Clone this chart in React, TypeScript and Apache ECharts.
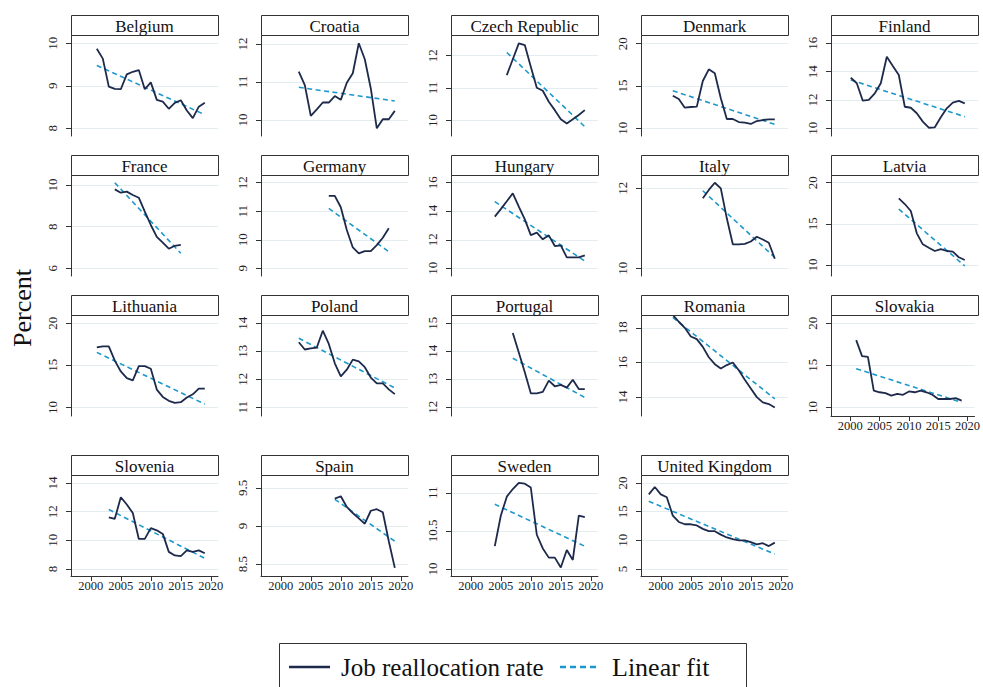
import React, { useEffect, useRef } from 'react';
import * as echarts from 'echarts';

// ---------- DATA ----------
const countries = ['Belgium', 'Croatia', 'Czech Republic', 'Denmark', 'Finland', 'France', 'Germany', 'Hungary', 'Italy', 'Latvia', 'Lithuania', 'Poland', 'Portugal', 'Romania', 'Slovakia', 'Slovenia', 'Spain', 'Sweden', 'United Kingdom'];
const startYears = [2001, 2003, 2006, 2002, 2000, 2004, 2008, 2004, 2007, 2008, 2001, 2003, 2007, 2002, 2001, 2003, 2009, 2004, 1998];

const belgium = [9.87, 9.64, 8.98, 8.93, 8.92, 9.27, 9.33, 9.37, 8.92, 9.08, 8.67, 8.63, 8.46, 8.60, 8.66, 8.42, 8.24, 8.51, 8.60];
const croatia = [11.27, 10.92, 10.11, 10.28, 10.46, 10.46, 10.63, 10.53, 10.98, 11.23, 12.02, 11.60, 10.83, 9.78, 10.02, 10.02, 10.24];
const czechRepublic = [11.40, 11.89, 12.38, 12.33, 11.66, 11.01, 10.92, 10.58, 10.32, 10.04, 9.91, 10.04, 10.17, 10.32];
const denmark = [13.85, 13.46, 12.44, 12.52, 12.56, 15.59, 16.97, 16.50, 13.55, 11.10, 11.10, 10.74, 10.66, 10.51, 10.86, 10.98, 11.06, 11.06];
const finland = [13.57, 13.18, 11.95, 12.0, 12.47, 13.18, 15.05, 14.40, 13.76, 11.52, 11.45, 11.06, 10.47, 10.04, 10.07, 10.78, 11.41, 11.81, 11.93, 11.76];
const france = [9.79, 9.63, 9.68, 9.52, 9.39, 8.72, 8.08, 7.51, 7.23, 6.94, 7.08, 7.12];
const germany = [11.54, 11.54, 11.14, 10.34, 9.73, 9.52, 9.60, 9.60, 9.81, 10.07, 10.40];
const hungary = [13.62, 14.15, 14.70, 15.26, 14.32, 13.43, 12.33, 12.50, 12.03, 12.31, 11.56, 11.61, 10.76, 10.76, 10.76, 10.91];
const italy = [11.75, 11.96, 12.14, 12.0, 11.25, 10.60, 10.60, 10.61, 10.67, 10.79, 10.72, 10.64, 10.24];
const latvia = [18.10, 17.41, 16.56, 13.85, 12.51, 12.10, 11.70, 11.94, 11.70, 11.62, 10.94, 10.61];
const lithuania = [17.13, 17.25, 17.25, 15.56, 14.27, 13.49, 13.21, 14.90, 14.90, 14.59, 12.12, 11.25, 10.78, 10.54, 10.62, 11.18, 11.56, 12.24, 12.24];
const poland = [13.32, 13.06, 13.10, 13.13, 13.73, 13.26, 12.57, 12.10, 12.34, 12.70, 12.64, 12.43, 12.06, 11.85, 11.85, 11.64, 11.47];
const portugal = [14.65, 13.95, 13.25, 12.5, 12.5, 12.55, 12.95, 12.75, 12.8, 12.7, 12.98, 12.65, 12.65];
const romania = [18.75, 18.35, 18.0, 17.5, 17.35, 16.9, 16.3, 15.9, 15.65, 15.85, 16.0, 15.55, 15.0, 14.5, 14.0, 13.7, 13.6, 13.4];
const slovakia = [18.0, 16.1, 16.0, 12.0, 11.8, 11.7, 11.4, 11.6, 11.5, 11.9, 11.8, 12.0, 11.8, 11.5, 11.0, 11.0, 11.0, 11.1, 10.8];
const slovenia = [11.6, 11.5, 13.0, 12.5, 11.9, 10.1, 10.1, 10.85, 10.7, 10.45, 9.2, 8.95, 8.9, 9.3, 9.2, 9.3, 9.1];
const spain = [9.36, 9.39, 9.25, 9.17, 9.1, 9.03, 9.2, 9.22, 9.18, 8.8, 8.45];
const sweden = [10.3, 10.7, 10.95, 11.05, 11.13, 11.12, 11.07, 10.45, 10.27, 10.15, 10.15, 10.02, 10.25, 10.12, 10.7, 10.68];
const unitedKingdom = [18.0, 19.3, 18.0, 17.5, 14.3, 13.2, 12.8, 12.8, 12.6, 12.0, 11.6, 11.6, 11.0, 10.5, 10.2, 10.0, 10.0, 9.7, 9.3, 9.5, 9.0, 9.6];

const rates = [belgium, croatia, czechRepublic, denmark, finland, france, germany, hungary, italy, latvia, lithuania, poland, portugal, romania, slovakia, slovenia, spain, sweden, unitedKingdom];

// linear fit: value at first year, value at last year
const belgiumFit = [9.48, 8.32];
const croatiaFit = [10.86, 10.5];
const czechRepublicFit = [12.1, 9.81];
const denmarkFit = [14.44, 10.47];
const finlandFit = [13.41, 10.82];
const franceFit = [10.11, 6.72];
const germanyFit = [11.1, 9.58];
const hungaryFit = [14.67, 10.51];
const italyFit = [11.94, 10.27];
const latviaFit = [16.8, 9.88];
const lithuaniaFit = [16.54, 10.39];
const polandFit = [13.46, 11.69];
const portugalFit = [13.75, 12.35];
const romaniaFit = [18.6, 13.9];
const slovakiaFit = [14.6, 10.6];
const sloveniaFit = [12.15, 8.75];
const spainFit = [9.35, 8.8];
const swedenFit = [10.85, 10.3];
const unitedKingdomFit = [16.8, 7.6];

const fits = [belgiumFit, croatiaFit, czechRepublicFit, denmarkFit, finlandFit, franceFit, germanyFit, hungaryFit, italyFit, latviaFit, lithuaniaFit, polandFit, portugalFit, romaniaFit, slovakiaFit, sloveniaFit, spainFit, swedenFit, unitedKingdomFit];

const yTicks = [
  [8, 9, 10], [10, 11, 12], [10, 11, 12], [10, 15, 20], [10, 12, 14, 16],
  [6, 8, 10], [9, 10, 11, 12], [10, 12, 14, 16], [10, 12], [10, 15, 20],
  [10, 15, 20], [11, 12, 13, 14], [12, 13, 14, 15], [14, 16, 18], [10, 15, 20],
  [8, 10, 12, 14], [8.5, 9, 9.5], [10, 10.5, 11], [5, 10, 15, 20],
];
const xTicks = [2000, 2005, 2010, 2015, 2020];

const seriesNames = ['Job reallocation rate', 'Linear fit'];

// ---------- LAYOUT ----------
const yRange = [
  [7.82, 10.195], [9.579, 12.237], [9.522, 12.639], [9.09, 21.03], [9.456, 16.586],
  [5.63, 10.48], [8.73, 12.27], [9.46, 16.54], [9.808, 12.333], [8.66, 20.94],
  [8.98, 20.98], [10.69, 14.29], [11.69, 15.29], [12.91, 18.74], [8.98, 20.98],
  [7.52, 14.55], [8.344, 9.669], [9.909, 11.234], [3.79, 21.38],
];
const X_MIN = 1996.7;
const X_MAX = 2021.2;
const COL_LEFT = [71, 261, 451, 641, 831];
const ROW_TOP = [15, 155, 295, 455];
const PLOT_W = 147;
const TITLE_H = 20;
const PLOT_H = 101;
const FONT = '"Liberation Serif", "DejaVu Serif", serif';
const NAVY = '#1d2a4b';
const TEAL = '#1d98cc';
const AXIS = '#333333';

function panelPos(i: number) {
  const row = Math.floor(i / 5);
  const col = i % 5;
  return { left: COL_LEFT[col], top: ROW_TOP[row] };
}
function hasXAxis(i: number) {
  return i >= 14;
}

export default function App() {
  const ref = useRef<HTMLDivElement>(null);
  useEffect(() => {
    if (!ref.current) return;
    const chart = echarts.init(ref.current, null, { renderer: 'svg' });
    const grids: any[] = [];
    const xAxes: any[] = [];
    const yAxes: any[] = [];
    const series: any[] = [];
    const graphics: any[] = [];

    countries.forEach((name, i) => {
      const p = panelPos(i);
      grids.push({ left: p.left, top: p.top + TITLE_H, width: PLOT_W, height: PLOT_H, containLabel: false });
      const showX = hasXAxis(i);
      xAxes.push({
        gridIndex: i, type: 'value', min: X_MIN, max: X_MAX,
        show: showX,
        axisLine: { show: showX, onZero: false, lineStyle: { color: AXIS, width: 1 } },
        axisTick: { show: showX, length: 5, customValues: xTicks, lineStyle: { color: AXIS } },
        axisLabel: {
          show: showX, customValues: xTicks, fontSize: 12.5, fontFamily: FONT, color: '#222', margin: 3,
          formatter: (v: number) => String(v),
        },
        splitLine: { show: false },
      });
      yAxes.push({
        gridIndex: i, type: 'value', min: yRange[i][0], max: yRange[i][1],
        axisLine: { show: true, onZero: false, lineStyle: { color: AXIS, width: 1 } },
        axisTick: { show: true, length: 5, customValues: yTicks[i], lineStyle: { color: AXIS } },
        axisLabel: {
          customValues: yTicks[i], rotate: 90, fontSize: 13, fontFamily: FONT, color: '#222', margin: 12,
          formatter: (v: number) => String(v),
        },
        splitLine: { show: true, lineStyle: { color: '#e3edf0', width: 1 } },
      });
      const vals = rates[i];
      const start = startYears[i];
      const end = start + vals.length - 1;
      series.push({
        name: seriesNames[0], type: 'line', xAxisIndex: i, yAxisIndex: i,
        data: vals.map((v, k) => [start + k, v]),
        symbol: 'none', lineStyle: { color: NAVY, width: 1.8 }, clip: false, z: 3,
      });
      series.push({
        name: seriesNames[1], type: 'line', xAxisIndex: i, yAxisIndex: i,
        data: [[start, fits[i][0]], [end, fits[i][1]]],
        symbol: 'none', lineStyle: { color: TEAL, width: 1.6, type: [5, 3.5] }, clip: false, z: 2,
      });
      graphics.push({
        type: 'rect', shape: { x: p.left + 0.5, y: p.top + 0.5, width: PLOT_W, height: TITLE_H },
        style: { fill: '#fff', stroke: AXIS, lineWidth: 1 }, z: 10,
      });
      graphics.push({
        type: 'text', x: p.left + PLOT_W / 2, y: p.top + TITLE_H / 2 + 1,
        style: { text: name, font: `17px ${FONT}`, fill: '#111', textAlign: 'center', textVerticalAlign: 'middle' }, z: 11,
      });
    });

    graphics.push({
      type: 'text', x: 22, y: 308, rotation: Math.PI / 2,
      style: { text: 'Percent', font: `26px ${FONT}`, fill: '#111', textAlign: 'center', textVerticalAlign: 'middle' },
    });
    // legend
    graphics.push({ type: 'rect', shape: { x: 279.5, y: 643.5, width: 467, height: 60 }, style: { fill: '#fff', stroke: AXIS, lineWidth: 1 } });
    graphics.push({ type: 'line', shape: { x1: 289, y1: 667, x2: 330, y2: 667 }, style: { stroke: NAVY, lineWidth: 2.5 } });
    graphics.push({ type: 'text', x: 341, y: 667, style: { text: seriesNames[0], font: `25px ${FONT}`, fill: '#111', textVerticalAlign: 'middle' } });
    graphics.push({ type: 'line', shape: { x1: 560, y1: 667, x2: 599, y2: 667 }, style: { stroke: TEAL, lineWidth: 2.5, lineDash: [6, 4] } });
    graphics.push({ type: 'text', x: 612, y: 667, style: { text: seriesNames[1], font: `26px ${FONT}`, fill: '#111', textVerticalAlign: 'middle' } });

    chart.setOption({
      animation: false,
      backgroundColor: '#fff',
      grid: grids,
      xAxis: xAxes,
      yAxis: yAxes,
      series,
      graphic: graphics,
    });
    return () => chart.dispose();
  }, []);
  return <div ref={ref} style={{ position: 'fixed', left: 0, top: 0, width: 983, height: 687 }} />;
}
